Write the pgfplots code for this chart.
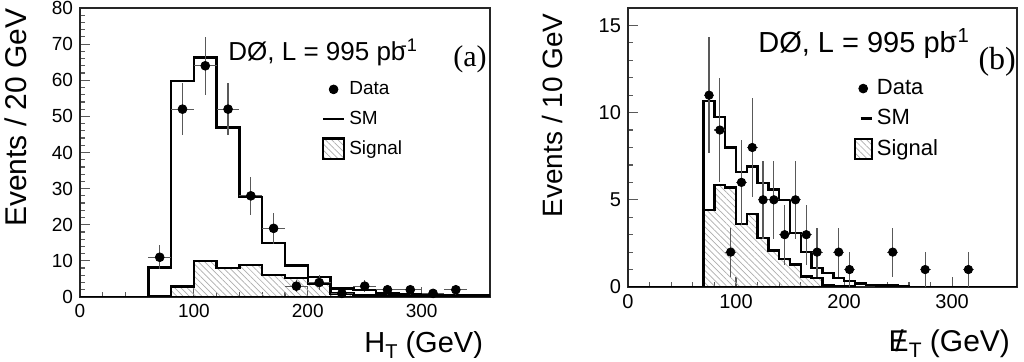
\documentclass[border=0pt]{standalone}
\usepackage{fontspec}
\setmainfont{Liberation Sans}
\newfontfamily\serif{Liberation Serif}
\usepackage{pgfplots}
\usepackage{pgfplotstable}
\pgfplotsset{compat=1.18}
\usetikzlibrary{patterns.meta}
\tikzset{sigpat/.style={pattern={Lines[angle=-45, distance=2.2pt, line width=0.35pt]}, pattern color=black!32}}

\pgfplotstableread{
x y
0 0
60 8.2
80 59.8
100 66.3
120 46.9
140 27.6
160 15
180 8.7
200 5.5
220 2.3
240 1.9
260 1.0
280 0.7
300 0.6
320 0.5
340 0.4
360 0.4
}\smL

\pgfplotstableread{
x y
60 0.3
80 2.9
100 9.9
120 8.0
140 8.9
160 6.1
180 5.3
200 3.7
220 1.0
240 0.6
260 0.3
280 0.2
300 0.15
320 0.1
340 0.1
360 0.1
}\sigL

\pgfplotstableread{
x y ex ey
70 11 10 3.32
90 52 10 7.21
110 64 10 8
130 52 10 7.21
150 28 10 5.29
170 19 10 4.36
190 3 10 1.73
210 4 10 2
230 1 10 1
250 3 10 1.73
270 2 10 1.41
290 2 10 1.41
310 1 10 1
330 2 10 1.41
}\dataL

\pgfplotstableread{
x y
0 0
70 10.65
80 9.75
90 8.0
100 6.6
110 6.9
120 5.95
130 5.6
140 5.0
150 3.1
160 2.0
170 1.1
180 0.8
190 0.5
200 0.35
210 0.2
220 0.12
230 0.08
240 0.08
250 0.02
260 0
360 0
}\smR

\pgfplotstableread{
x y
70 4.4
80 5.85
90 5.7
100 3.6
110 4.2
120 2.8
130 2.1
140 1.6
150 1.3
160 0.6
170 0.5
180 0.12
190 0.05
200 0.02
210 0.0
}\sigR

\pgfplotstableread{
x y ex ey
75 11 5 3.32
85 9 5 3
95 2 5 1.41
105 6 5 2.45
115 8 5 2.83
125 5 5 2.24
135 5 5 2.24
145 3 5 1.73
155 5 5 2.24
165 3 5 1.73
175 2 5 1.41
195 2 5 1.41
205 1 5 1
245 2 5 1.41
275 1 5 1
315 1 5 1
}\dataR

\pgfplotsset{
  rootstyle/.style={
    scale only axis,
    axis line style={line width=0.9pt, black!85},
    tick align=inside,
    xtick pos=lower, ytick pos=left,
    tick style={black!65, line width=0.6pt},
    major tick length=5pt, minor tick length=2.6pt,
    /pgf/number format/assume math mode=true,
    xmin=0, xmax=360,
    xtick={0,100,200,300}, minor x tick num=4,
    minor y tick num=4,
    legend cell align=left,
    legend style={draw=none, fill=none, inner sep=0pt, outer sep=0pt},
  },
}

\begin{document}
\begin{tikzpicture}
\useasboundingbox (0,0) rectangle (512pt,181pt);

% ---------- panel (a) ----------
\begin{axis}[rootstyle,
  at={(40pt,32.5pt)}, anchor=south west,
  width=205pt, height=144.5pt,
  ymin=0, ymax=80, ytick={0,10,...,80},
  tick label style={font=\fontsize{9.5}{9.5}\selectfont},
  ylabel={Events / 20 GeV},
  ylabel style={at={(axis description cs:-0.129,1)}, anchor=south east, inner sep=0pt, font=\fontsize{15}{15}\selectfont},
  xlabel={H\raisebox{-0.35ex}{\fontsize{10}{10}\selectfont T} (GeV)},
  xlabel style={at={(axis description cs:1,0)}, anchor=base east, yshift=-28pt, font=\fontsize{14.5}{14.5}\selectfont},
  legend style={at={(axis description cs:0.590,0.760)}, anchor=north west, font=\fontsize{9.5}{9.5}\selectfont,
     /tikz/every even column/.append style={column sep=2.5pt}},
  legend style={row sep=2.7pt},
]
\addlegendimage{legend image code/.code={\fill[black] (5.25pt,0pt) circle (2.2pt);}}
\addlegendentry{Data}
\addlegendimage{legend image code/.code={\draw[black, line width=1.2pt] (0pt,0pt) -- (10.5pt,0pt);}}
\addlegendentry{SM}
\addlegendimage{legend image code/.code={\draw[black, line width=1.1pt, sigpat] (0pt,-5.2pt) rectangle (10.5pt,5.2pt);}}
\addlegendentry{Signal}

\addplot[forget plot, const plot, draw=black, line width=1.2pt, sigpat] table[x=x,y=y] {\sigL} \closedcycle;
\addplot[forget plot, const plot, black, line width=1.2pt] table[x=x,y=y] {\smL};
\addplot[forget plot, only marks, mark=*, black, mark size=2.2pt,
  error bars/.cd, x dir=both, x explicit, y dir=both, y explicit,
  error mark=none, error bar style={line width=0.6pt, black!65}]
  table[x=x, y=y, x error=ex, y error=ey] {\dataL};

\node[anchor=base west, font=\fontsize{13}{13}\selectfont, inner sep=0pt] at (axis description cs:0.361,0.818) {DØ, L = 995 pb\textsuperscript{\kern-0.25em-1}};
\node[anchor=base east, font=\serif\fontsize{15}{15}\selectfont, inner sep=0pt] at (axis description cs:0.993,0.797) {(a)};
\end{axis}

% ---------- panel (b) ----------
\begin{axis}[rootstyle,
  at={(314pt,37.5pt)}, anchor=south west,
  width=194.5pt, height=139.5pt,
  ymin=0, ymax=16, ytick={0,5,10,15},
  tick label style={font=\fontsize{10}{10}\selectfont},
  ylabel={Events / 10 GeV},
  ylabel style={at={(axis description cs:-0.167,0.982)}, anchor=south east, inner sep=0pt, font=\fontsize{14}{14}\selectfont},
  xlabel={\ooalign{E\cr\hidewidth\kern0.05em/\hidewidth}\raisebox{-0.35ex}{\fontsize{10.5}{10.5}\selectfont T} (GeV)},
  xlabel style={at={(axis description cs:1,0)}, anchor=base east, yshift=-32.5pt, font=\fontsize{15}{15}\selectfont},
  legend style={at={(axis description cs:0.580,0.758)}, anchor=north west, font=\fontsize{11}{11}\selectfont,
     /tikz/every even column/.append style={column sep=1pt}},
  legend style={row sep=1.8pt},
]
\addlegendimage{legend image code/.code={\fill[black] (4.25pt,0pt) circle (2.2pt);}}
\addlegendentry{Data}
\addlegendimage{legend image code/.code={\draw[black, line width=1.2pt] (3pt,0pt) -- (8.5pt,0pt);}}
\addlegendentry{SM}
\addlegendimage{legend image code/.code={\draw[black, line width=1.1pt, sigpat] (0pt,-5pt) rectangle (8.5pt,5pt);}}
\addlegendentry{Signal}

\addplot[forget plot, const plot, draw=black, line width=1.2pt, sigpat] table[x=x,y=y] {\sigR} \closedcycle;
\addplot[forget plot, const plot, black, line width=1.2pt] table[x=x,y=y] {\smR};
\addplot[forget plot, only marks, mark=*, black, mark size=2.1pt,
  error bars/.cd, x dir=both, x explicit, y dir=both, y explicit,
  error mark=none, error bar style={line width=0.6pt, black!65}]
  table[x=x, y=y, x error=ex, y error=ey] {\dataR};

\node[anchor=base west, font=\fontsize{14.5}{14.5}\selectfont, inner sep=0pt] at (axis description cs:0.334,0.839) {DØ, L = 995 pb\textsuperscript{\kern-0.25em-1}};
\node[anchor=base east, font=\serif\fontsize{16}{16}\selectfont, inner sep=0pt] at (axis description cs:0.998,0.778) {(b)};
\end{axis}
\end{tikzpicture}
\end{document}
